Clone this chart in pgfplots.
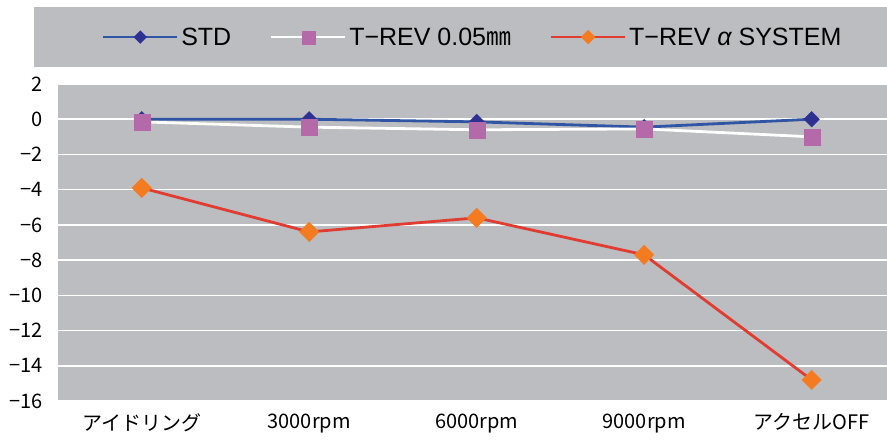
\documentclass[border=0pt]{standalone}
\usepackage{fontspec}
\setmainfont{Noto Sans CJK JP}
\newfontfamily\legfont{Liberation Sans}
\newfontfamily\cjk{Noto Sans CJK JP}
\usepackage{pgfplots}
\pgfplotsset{compat=1.18}
\definecolor{bg}{HTML}{BCBDC1}
\definecolor{stdline}{HTML}{2F55A4}
\definecolor{stdmark}{HTML}{2E3192}
\definecolor{revmark}{HTML}{B469A9}
\definecolor{alline}{HTML}{E03C31}
\definecolor{almark}{HTML}{F47B20}
\begin{document}
\begin{tikzpicture}[x=1pt,y=1pt]
\useasboundingbox (0,0) rectangle (887,444);
\fill[bg] (34,377) rectangle (887,437);
\begin{axis}[
  at={(58pt,43pt)}, anchor=south west,
  scale only axis, width=829pt, height=317pt,
  axis background/.style={fill=bg},
  axis line style={draw=none},
  xmin=-0.5, xmax=4.45, ymin=-16, ymax=2,
  xtick={0,1,2,3,4},
  xticklabels={アイドリング,3000rpm,6000rpm,9000rpm,アクセルOFF},
  ytick={-16,-14,...,2},
  yticklabels={−16,−14,−12,−10,−8,−6,−4,−2,0,2},
  major tick length=0pt,
  ymajorgrids, grid style={white, line width=1.5pt},
  tick label style={font=\fontsize{20}{23}\selectfont},
  xticklabel style={yshift=-9pt},
  yticklabel style={xshift=-12pt},
  clip=false,
]
\addplot[color=stdline, line width=2.8pt, mark=square*, mark size=5.6pt, mark options={fill=stdmark, draw=stdmark, line width=0.1pt, rotate=45}]
  coordinates {(0,0) (1,0) (2,-0.15) (3,-0.45) (4,0)};
\addplot[color=white, line width=2.8pt, mark=square*, mark size=8pt, mark options={fill=revmark, draw=revmark, line width=0.1pt}]
  coordinates {(0,-0.15) (1,-0.45) (2,-0.6) (3,-0.55) (4,-1.0)};
\addplot[color=alline, line width=2.8pt, mark=square*, mark size=7pt, mark options={fill=almark, draw=almark, line width=0.1pt, rotate=45}]
  coordinates {(0,-3.9) (1,-6.4) (2,-5.6) (3,-7.7) (4,-14.8)};
\end{axis}
\begin{axis}[
  at={(58pt,43pt)}, anchor=south west,
  scale only axis, width=829pt, height=317pt,
  hide axis, xmin=-0.5, xmax=4.45, ymin=-16, ymax=2,
  legend columns=3,
  legend style={at={(0.501,1.148)}, anchor=center, fill=none, draw=none,
    font=\legfont\fontsize{25}{29}\selectfont,
    nodes={inner sep=3pt},
    /tikz/every even column/.append style={column sep=36pt}},
  legend image code/.code={\draw[mark repeat=2,mark phase=2,#1] plot coordinates {(0pt,0pt) (37pt,0pt) (74pt,0pt)};},
]
\addlegendimage{color=stdline, line width=2pt, mark=square*, mark size=4.6pt, mark options={fill=stdmark, draw=stdmark, line width=0.1pt, rotate=45}}
\addlegendentry{STD}
\addlegendimage{color=white, line width=2pt, mark=square*, mark size=6.5pt, mark options={fill=revmark, draw=revmark, line width=0.1pt}}
\addlegendentry{T−REV 0.05{\cjk ㎜}}
\addlegendimage{color=alline, line width=2pt, mark=square*, mark size=5pt, mark options={fill=almark, draw=almark, line width=0.1pt, rotate=45}}
\addlegendentry{T−REV {\itshape α} SYSTEM}
\end{axis}
\end{tikzpicture}
\end{document}
